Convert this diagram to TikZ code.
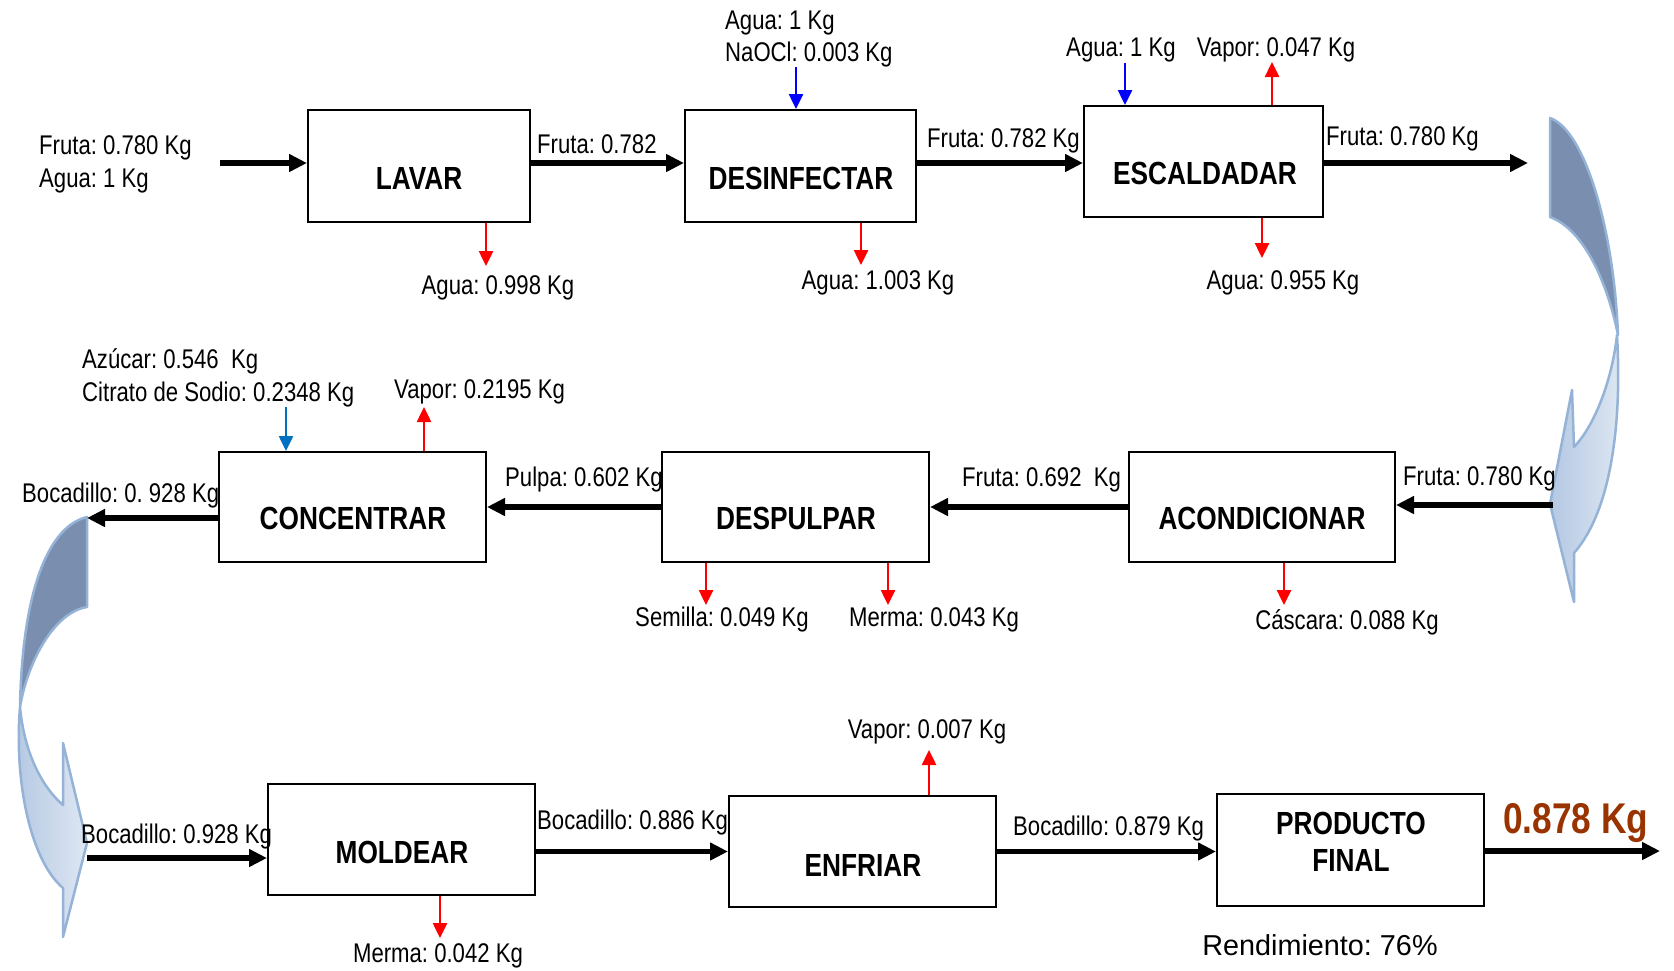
\documentclass[tikz,border=0pt]{standalone}
\usepackage{fontspec}
\setmainfont{Liberation Sans}[FakeStretch=0.82]
\newfontfamily\widefont{Liberation Sans}
\usetikzlibrary{arrows.meta}
\frenchspacing
\definecolor{cdark}{RGB}{122,143,176}
\definecolor{cedge}{RGB}{149,179,215}
\definecolor{clightA}{RGB}{180,200,226}
\definecolor{clightB}{RGB}{222,231,243}
\definecolor{cbrown}{RGB}{153,51,0}
\definecolor{cblue2}{RGB}{0,112,192}
\tikzset{
  procbox/.style={draw=black, line width=2pt, inner sep=0pt, fill=white},
  lbl/.style={font=\fontsize{27}{30}\selectfont, inner sep=0pt, text height=19pt, text depth=0pt},
  btxt/.style={font=\bfseries\fontsize{32}{36}\selectfont, inner sep=0pt, text height=23pt, text depth=0pt},
  flow/.style={line width=5.5pt, -{Triangle[length=18pt,width=17pt]}},
  rarrow/.style={draw=red, line width=2.5pt, -{Triangle[length=15pt,width=14pt]}},
  barrow/.style={draw=blue, line width=2.5pt, -{Triangle[length=15pt,width=14pt]}},
  darkpart/.style={fill=cdark, draw=cedge, line width=2.5pt, line join=round},
  lightpart/.style={left color=clightA, right color=clightB, draw=cedge, line width=2.5pt, line join=round}
}
\begin{document}
\begin{tikzpicture}[x=1pt,y=-1pt]
\useasboundingbox (0,0) rectangle (1674,970);

% ---------- curved arrows ----------
\shadedraw[lightpart] (1617,335) .. controls (1622,420) and (1612,510) .. (1574,553)
  -- (1574,602) -- (1550,504) -- (1572,390) -- (1574,447)
  .. controls (1595,425) and (1612,380) .. (1617,335) -- cycle;
\filldraw[darkpart] (1550,118) .. controls (1585,130) and (1614,230) .. (1618,335)
  .. controls (1608,285) and (1585,230) .. (1550,217) -- cycle;

\shadedraw[lightpart] (20,707) .. controls (14,780) and (30,860) .. (63,888)
  -- (63,937) -- (87,843) -- (63,743) -- (63,805)
  .. controls (40,785) and (24,750) .. (20,707) -- cycle;
\filldraw[darkpart] (87,517) .. controls (45,527) and (22,600) .. (20,707)
  .. controls (28,660) and (55,612) .. (87,607) -- cycle;

% ---------- boxes ----------
\node[procbox, minimum width=222pt, minimum height=112pt] (lavar) at (419,166) {};
\node[procbox, minimum width=231pt, minimum height=112pt] (desinf) at (800.5,166) {};
\node[procbox, minimum width=239pt, minimum height=111pt] (escald) at (1203.5,161.5) {};
\node[procbox, minimum width=267pt, minimum height=110pt] (concen) at (352.5,507) {};
\node[procbox, minimum width=267pt, minimum height=110pt] (despul) at (795.5,507) {};
\node[procbox, minimum width=266pt, minimum height=110pt] (acond) at (1262,507) {};
\node[procbox, minimum width=267pt, minimum height=111pt] (moldear) at (401.5,839.5) {};
\node[procbox, minimum width=267pt, minimum height=111pt] (enfriar) at (862.5,851.5) {};
\node[procbox, minimum width=267pt, minimum height=112pt] (producto) at (1350.5,850) {};

\node[btxt] (tlavar) at (419,178) {LAVAR};
\node[btxt] (tdesinf) at (801,178) {DESINFECTAR};
\node[btxt] (tescald) at (1205,173) {ESCALDADAR};
\node[btxt] (tconcen) at (353,518) {CONCENTRAR};
\node[btxt] (tdespul) at (796,518) {DESPULPAR};
\node[btxt] (tacond) at (1262,518) {ACONDICIONAR};
\node[btxt] (tmoldear) at (402,852) {MOLDEAR};
\node[btxt] (tenfriar) at (863,865) {ENFRIAR};
\node[btxt] (tprod1) at (1351,823) {PRODUCTO};
\node[btxt] (tprod2) at (1351,860) {FINAL};

% ---------- coordinates for free ends ----------
\coordinate (in1) at (220,163);
\coordinate (e1) at (1528,163);
\coordinate (m1) at (1553,505);
\coordinate (m2) at (87,518);
\coordinate (b1) at (87,858);
\coordinate (p1) at (1660,851);

% ---------- main flow ----------
\draw[flow] (in1) -- (in1 -| lavar.west);
\draw[flow] ([yshift=3pt]lavar.east) -- ([yshift=3pt]desinf.west);
\draw[flow] ([yshift=3pt]desinf.east) -- ([yshift=3pt]desinf.east -| escald.west);
\draw[flow] (escald.east |- e1) -- (e1);
\draw[flow] (m1) -- (m1 -| acond.east);
\draw[flow] (acond.west) -- (despul.east);
\draw[flow] (despul.west) -- (concen.east);
\draw[flow] (concen.west |- m2) -- (m2);
\draw[flow] (b1) -- (b1 -| moldear.west);
\draw[flow] (moldear.east |- enfriar.west) -- (enfriar.west);
\draw[flow] (enfriar.east) -- (enfriar.east -| producto.west);
\draw[flow] (producto.east |- p1) -- (p1);

% ---------- side streams ----------
\coordinate (s1) at (796,67);
\coordinate (s2) at (486,266);
\coordinate (s3) at (861,265);
\coordinate (s4) at (1125,63);
\coordinate (s5) at (1272,62);
\coordinate (s6) at (1262,258);
\coordinate (s7) at (286,407);
\coordinate (s8) at (424,407);
\coordinate (s9) at (706,605);
\coordinate (s10) at (888,605);
\coordinate (s11) at (1284,605);
\coordinate (s12) at (440,938);
\coordinate (s13) at (929,750);

\draw[barrow] (s1) -- (s1 |- desinf.north);
\draw[rarrow] (lavar.south -| s2) -- (s2);
\draw[rarrow] (desinf.south -| s3) -- (s3);
\draw[barrow] (s4) -- (s4 |- escald.north);
\draw[rarrow] (escald.north -| s5) -- (s5);
\draw[rarrow] (escald.south -| s6) -- (s6);
\draw[barrow, draw=cblue2] (s7) -- (s7 |- concen.north);
\draw[rarrow] (concen.north -| s8) -- (s8);
\draw[rarrow] (despul.south -| s9) -- (s9);
\draw[rarrow] (despul.south -| s10) -- (s10);
\draw[rarrow] (acond.south -| s11) -- (s11);
\draw[rarrow] (moldear.south -| s12) -- (s12);
\draw[rarrow] (enfriar.north -| s13) -- (s13);

% ---------- labels ----------
\node[lbl, anchor=west] (l1) at (39,145) {Fruta: 0.780 Kg};
\node[lbl, anchor=west] (l2) at (39,178) {Agua: 1 Kg};
\node[lbl, anchor=west] (l3) at (537,144) {Fruta: 0.782};
\node[lbl, anchor=west] (l4) at (725,20) {Agua: 1 Kg};
\node[lbl, anchor=west] (l5) at (725,52) {NaOCl: 0.003 Kg};
\node[lbl] (l6) at (498,285) {Agua: 0.998 Kg};
\node[lbl] (l7) at (878,280) {Agua: 1.003 Kg};
\node[lbl, anchor=west] (l8) at (927,138) {Fruta: 0.782 Kg};
\node[lbl] (l9) at (1121,47) {Agua: 1 Kg};
\node[lbl] (l10) at (1276,47) {Vapor: 0.047 Kg};
\node[lbl] (l11) at (1283,280) {Agua: 0.955 Kg};
\node[lbl, anchor=west] (l12) at (1326,136) {Fruta: 0.780 Kg};

\node[lbl, anchor=west] (l13) at (82,359) {Azúcar: 0.546~ Kg};
\node[lbl, anchor=west] (l14) at (82,392) {Citrato de Sodio: 0.2348 Kg};
\node[lbl, anchor=west] (l15) at (394,389) {Vapor: 0.2195 Kg};
\node[lbl, anchor=west] (l16) at (22,493) {Bocadillo: 0. 928 Kg};
\node[lbl, anchor=west] (l17) at (505,477) {Pulpa: 0.602 Kg};
\node[lbl, anchor=west] (l18) at (962,477) {Fruta: 0.692~ Kg};
\node[lbl, anchor=west] (l19) at (1403,476) {Fruta: 0.780 Kg};
\node[lbl] (l20) at (722,617) {Semilla: 0.049 Kg};
\node[lbl] (l21) at (934,617) {Merma: 0.043 Kg};
\node[lbl] (l22) at (1347,620) {Cáscara: 0.088 Kg};

\node[lbl, anchor=west] (l23) at (81,834) {Bocadillo: 0.928 Kg};
\node[lbl, anchor=west] (l24) at (537,820) {Bocadillo: 0.886 Kg};
\node[lbl] (l25) at (927,729) {Vapor: 0.007 Kg};
\node[lbl, anchor=west] (l26) at (1013,826) {Bocadillo: 0.879 Kg};
\node[lbl] (l27) at (438,953) {Merma: 0.042 Kg};
\node[inner sep=0pt, text height=30pt, text depth=0pt, anchor=west, text=cbrown,
      font=\bfseries\fontsize{43}{48}\selectfont] (l28) at (1503,818) {0.878 Kg};
\node[inner sep=0pt, text height=20.6pt, text depth=0pt,
      font=\widefont\fontsize{28.8}{34}\selectfont] (l29) at (1320,945) {Rendimiento: 76\%};
\end{tikzpicture}
\end{document}
